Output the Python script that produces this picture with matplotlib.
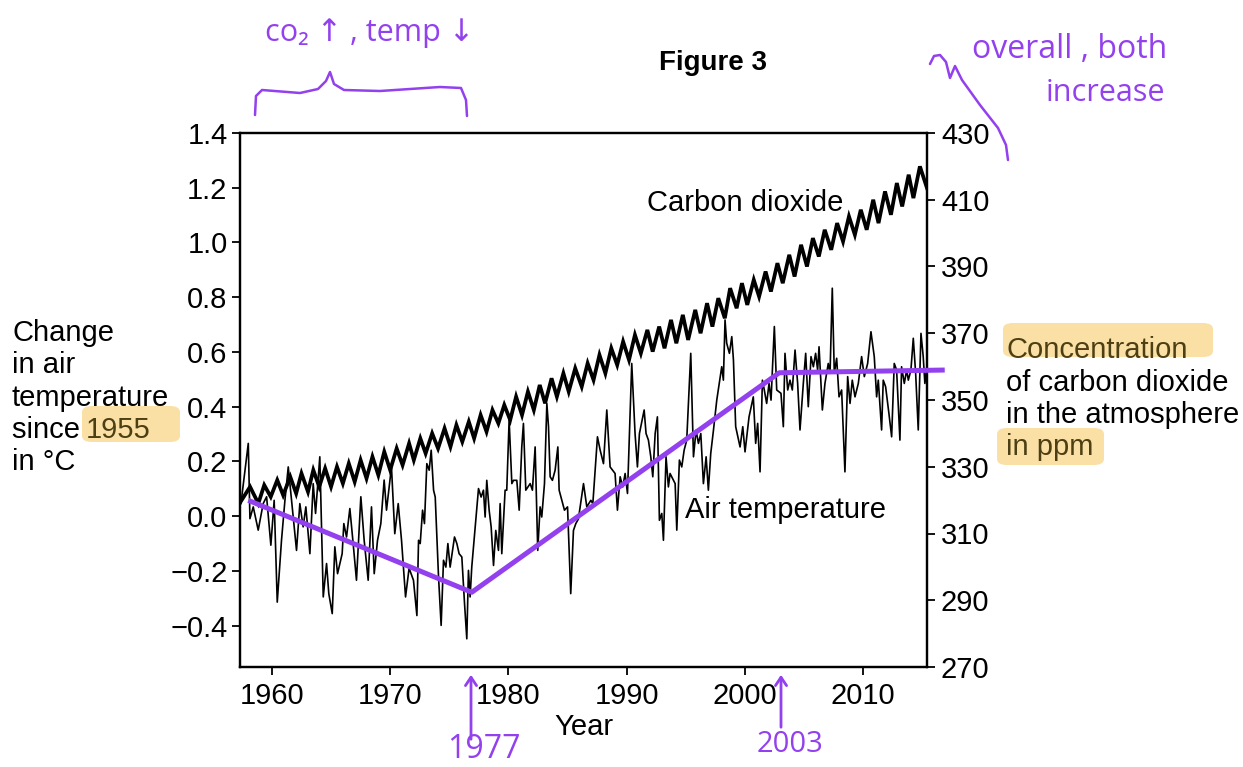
import numpy as np
import matplotlib.pyplot as plt
from matplotlib.lines import Line2D
from matplotlib.patches import FancyArrowPatch, FancyBboxPatch

plt.rcParams['font.family'] = ['Liberation Sans', 'DejaVu Sans']

# ---- data ----
# carbon dioxide, seasonal peaks and troughs (year, ppm)
co2_year = [1957.35, 1958.15, 1958.85, 1959.35, 1959.9, 1960.45, 1960.95, 1961.55, 1962.05, 1962.5,
            1963.05, 1963.5, 1964.0, 1964.5, 1965.0, 1965.5, 1966.0, 1966.5, 1967.0, 1967.5,
            1968.0, 1968.5, 1969.0, 1969.5, 1970.0, 1970.55, 1971.05, 1971.6, 1972.0, 1972.55,
            1973.0, 1973.55, 1974.05, 1974.6, 1975.1, 1975.6, 1976.1, 1976.65, 1977.1, 1977.65,
            1978.15, 1978.65, 1979.15, 1979.65, 1980.15, 1980.65, 1981.15, 1981.65, 1982.15, 1982.65,
            1983.1, 1983.65, 1984.1, 1984.65, 1985.1, 1985.65, 1986.2, 1986.7, 1987.2, 1987.7,
            1988.2, 1988.7, 1989.2, 1989.7, 1990.2, 1990.7, 1991.2, 1991.75, 1992.2, 1992.75,
            1993.2, 1993.75, 1994.2, 1994.75, 1995.2, 1995.8, 1996.25, 1996.8, 1997.25, 1997.75,
            1998.3, 1998.75, 1999.3, 1999.75, 2000.2, 2000.75, 2001.2, 2001.75, 2002.2, 2002.75,
            2003.2, 2003.75, 2004.2, 2004.75, 2005.25, 2005.75, 2006.25, 2006.75, 2007.3, 2007.8,
            2008.3, 2008.8, 2009.3, 2009.8, 2010.3, 2010.85, 2011.3, 2011.85, 2012.35, 2012.85,
            2013.3, 2013.85, 2014.25, 2014.8, 2015.4]
co2_ppm = [319.5, 324.0, 319.0, 324.5, 321.0, 326.0, 321.5, 327.0, 322.0, 328.0,
           322.5, 329.0, 324.0, 329.5, 324.0, 330.0, 325.0, 331.0, 325.5, 332.0,
           326.5, 333.0, 327.5, 334.5, 329.0, 335.5, 330.5, 337.0, 332.0, 338.5,
           334.0, 340.0, 335.5, 341.5, 336.0, 342.5, 337.5, 343.5, 338.5, 345.5,
           340.5, 347.0, 343.0, 348.5, 344.0, 351.0, 345.5, 352.5, 347.0, 354.5,
           349.0, 356.5, 351.0, 358.0, 352.5, 359.5, 354.0, 361.0, 356.0, 363.5,
           358.0, 365.5, 360.5, 367.5, 362.0, 369.5, 364.0, 371.0, 364.5, 372.0,
           365.5, 374.0, 367.0, 375.5, 368.0, 377.0, 370.0, 379.0, 372.0, 380.5,
           374.5, 383.5, 377.5, 385.0, 378.5, 386.0, 381.0, 388.5, 382.5, 391.0,
           385.0, 393.5, 387.0, 396.5, 390.0, 398.5, 393.0, 401.0, 395.0, 403.0,
           397.5, 405.0, 399.5, 407.0, 401.0, 410.0, 403.0, 412.5, 405.5, 415.0,
           408.0, 417.5, 410.5, 420.0, 413.5]

# change in air temperature since 1955 (year, degC)
temp_year = [1957.38, 1958.0, 1958.14, 1958.42, 1958.84, 1959.26, 1959.55, 1959.91, 1960.19, 1960.45,
             1960.81, 1961.1, 1961.38, 1961.66, 1962.08, 1962.36, 1962.64, 1962.87, 1963.21, 1963.49,
             1963.69, 1964.05, 1964.34, 1964.62, 1964.81, 1965.1, 1965.32, 1965.55, 1965.94, 1966.08,
             1966.31, 1966.59, 1966.87, 1967.15, 1967.52, 1967.8, 1968.14, 1968.42, 1968.65, 1968.93,
             1969.21, 1969.49, 1969.69, 1970.11, 1970.39, 1970.68, 1970.96, 1971.3, 1971.6, 1971.97,
             1972.26, 1972.4, 1972.54, 1972.74, 1972.9, 1973.1, 1973.3, 1973.47, 1973.67, 1973.81,
             1974.09, 1974.31, 1974.51, 1974.71, 1974.88, 1975.07, 1975.44, 1975.64, 1975.83, 1976.06,
             1976.29, 1976.48, 1976.62, 1976.76, 1976.9, 1977.19, 1977.47, 1977.69, 1977.89, 1978.03,
             1978.17, 1978.37, 1978.54, 1978.74, 1978.93, 1979.16, 1979.3, 1979.44, 1979.72, 1979.86,
             1980.06, 1980.29, 1980.43, 1980.71, 1980.91, 1981.13, 1981.27, 1981.47, 1981.84, 1982.03,
             1982.26, 1982.48, 1982.68, 1982.82, 1983.05, 1983.25, 1983.39, 1983.53, 1983.72, 1983.95,
             1984.18, 1984.29, 1984.74, 1985.0, 1985.27, 1985.5, 1985.7, 1985.92, 1986.35, 1986.63,
             1986.97, 1987.14, 1987.53, 1987.76, 1988.04, 1988.32, 1988.6, 1989.02, 1989.22, 1989.45,
             1989.67, 1989.87, 1990.07, 1990.43, 1990.71, 1990.91, 1991.08, 1991.48, 1991.64, 1991.84,
             1992.04, 1992.21, 1992.41, 1992.6, 1992.77, 1992.97, 1993.11, 1993.33, 1993.53, 1993.67,
             1994.1, 1994.24, 1994.46, 1994.66, 1994.86, 1995.08, 1995.42, 1995.65, 1995.87, 1996.07,
             1996.27, 1996.49, 1996.72, 1996.91, 1997.11, 1997.34, 1997.62, 1998.04, 1998.18, 1998.32,
             1998.46, 1998.69, 1998.89, 1999.03, 1999.22, 1999.59, 1999.82, 2000.01, 2000.35, 2000.71,
             2000.91, 2001.08, 2001.28, 2001.48, 2001.64, 2001.84, 2002.04, 2002.21, 2002.49, 2002.69,
             2003.05, 2003.25, 2003.39, 2003.62, 2003.81, 2004.01, 2004.24, 2004.46, 2004.66, 2004.94,
             2005.14, 2005.36, 2005.59, 2005.79, 2005.98, 2006.15, 2006.27, 2006.55, 2006.77, 2007.05,
             2007.2, 2007.39, 2007.56, 2007.76, 2007.96, 2008.18, 2008.46, 2008.69, 2008.89, 2009.08,
             2009.31, 2009.59, 2009.87, 2010.1, 2010.38, 2010.66, 2010.94, 2011.14, 2011.28, 2011.56,
             2011.7, 2011.9, 2012.18, 2012.41, 2012.63, 2012.83, 2013.11, 2013.25, 2013.48, 2013.68,
             2013.82, 2014.04, 2014.24, 2014.44, 2014.66, 2014.89, 2015.08, 2015.22, 2015.4]
temp_change = [0.046, 0.266, -0.009, 0.034, -0.051, 0.046, 0.071, -0.106, 0.058, -0.314,
               -0.088, 0.058, 0.18, 0.058, -0.125, 0.046, -0.039, 0.034, -0.137, 0.119,
               0.01, 0.217, -0.295, -0.173, -0.283, -0.356, -0.112, -0.21, -0.137, -0.027,
               -0.076, 0.028, -0.1, -0.234, 0.071, -0.088, -0.234, 0.034, -0.21, -0.088,
               -0.027, 0.132, 0.022, 0.18, -0.064, 0.046, -0.088, -0.295, -0.19, -0.234,
               -0.363, -0.088, -0.1, 0.022, -0.027, 0.192, 0.168, 0.241, 0.095, 0.07,
               -0.222, -0.399, -0.161, -0.186, -0.1, -0.186, -0.076, -0.1, -0.137, -0.149,
               -0.32, -0.448, -0.198, -0.295, -0.186, -0.039, 0.101, 0.07, 0.095, -0.003,
               0.131, 0.022, -0.039, -0.18, -0.052, -0.125, 0.046, -0.137, 0.095, 0.095,
               0.351, 0.119, 0.131, 0.131, 0.022, 0.253, 0.339, 0.095, 0.119, 0.095,
               0.253, -0.125, 0.034, -0.003, 0.119, 0.412, 0.327, 0.144, 0.131, 0.168,
               0.253, 0.095, 0.022, 0.034, -0.283, -0.052, -0.027, -0.01, 0.119, 0.034,
               0.058, 0.046, 0.29, 0.241, 0.192, 0.388, 0.18, 0.156, 0.022, 0.144,
               0.107, 0.156, 0.083, 0.558, 0.302, 0.18, 0.302, 0.388, 0.302, 0.278,
               0.217, 0.144, 0.302, 0.363, -0.015, 0.01, -0.088, 0.217, 0.107, 0.156,
               0.119, -0.051, 0.205, 0.18, 0.241, 0.278, 0.595, 0.217, 0.314, 0.266,
               0.302, 0.119, 0.217, 0.095, 0.229, 0.314, 0.424, 0.546, 0.497, 0.717,
               0.632, 0.595, 0.656, 0.571, 0.327, 0.253, 0.327, 0.235, 0.363, 0.436,
               0.266, 0.339, 0.162, 0.497, 0.461, 0.412, 0.485, 0.424, 0.693, 0.461,
               0.449, 0.327, 0.595, 0.461, 0.497, 0.461, 0.607, 0.485, 0.315, 0.485,
               0.595, 0.4, 0.583, 0.546, 0.595, 0.534, 0.619, 0.388, 0.485, 0.558,
               0.522, 0.833, 0.522, 0.577, 0.436, 0.461, 0.162, 0.51, 0.412, 0.497,
               0.436, 0.485, 0.583, 0.51, 0.558, 0.674, 0.583, 0.436, 0.497, 0.315,
               0.497, 0.473, 0.375, 0.29, 0.558, 0.534, 0.278, 0.546, 0.485, 0.534,
               0.497, 0.534, 0.65, 0.522, 0.315, 0.668, 0.583, 0.485, 0.55]

# hand drawn trend annotation (year, degC)
trend_year = [1958.0, 1976.9, 2002.9, 2016.9]
trend_temp = [0.058, -0.278, 0.524, 0.534]

purple = '#9340EE'
hl = '#FBE0A6'
W, H = 1243, 767


def fp(x, y):
    # image pixel -> figure fraction
    return x / W, 1 - y / H


fig = plt.figure(figsize=(W / 100, H / 100), dpi=100)
ax = fig.add_axes([240 / W, 1 - 667 / H, 687 / W, 534 / H])
ax2 = ax.twinx()

ax2.plot(co2_year, co2_ppm, color='black', lw=2.7, solid_joinstyle='miter', zorder=2)
ax.plot(temp_year, temp_change, color='black', lw=1.2, zorder=2)
ax2.plot(trend_year, trend_temp, color=purple, lw=3.6, transform=ax.transData,
         clip_on=False, solid_capstyle='butt', zorder=5)

ax.set_xlim(1957.3, 2015.4)
ax.set_ylim(-0.551, 1.4)
ax2.set_ylim(270, 430)
ax.set_xticks([1960, 1970, 1980, 1990, 2000, 2010])
ax.set_yticks(np.arange(-0.4, 1.41, 0.2))
ax.set_yticklabels(['\u22120.4', '\u22120.2', '0.0', '0.2', '0.4', '0.6', '0.8', '1.0', '1.2', '1.4'])
ax2.set_yticks(np.arange(270, 431, 20))

for a in (ax, ax2):
    for s in a.spines.values():
        s.set_linewidth(1.6)
    a.tick_params(labelsize=21, length=6, width=1.3, direction='out')
ax.tick_params(axis='y', pad=3)
ax2.tick_params(axis='y', pad=4)
ax.tick_params(axis='x', pad=5)
ax.set_xlabel('Year', fontsize=21, labelpad=2)

ax.text(0.592, 0.869, 'Carbon dioxide', transform=ax.transAxes, fontsize=21, va='center')
ax.text(0.648, 0.294, 'Air temperature', transform=ax.transAxes, fontsize=21, va='center')

fig.text(*fp(713, 63), 'Figure 3', fontsize=20, fontweight='bold', ha='center', va='center')

# highlights behind axis labels
for x0, y0, x1, y1 in [(82, 406, 180, 442), (1003, 323, 1213, 357), (997, 428, 1104, 465)]:
    a0 = fp(x0, y1)
    fig.add_artist(FancyBboxPatch(a0, (x1 - x0) / W, (y1 - y0) / H,
                                  boxstyle='round,pad=0,rounding_size=0.008',
                                  transform=fig.transFigure, facecolor=hl,
                                  edgecolor='none', zorder=0))

left_lines = ['Change', 'in air', 'temperature', 'since ', 'in \u00b0C']
left_y = [333, 365, 398, 430, 462]
for txt, yy in zip(left_lines, left_y):
    fig.text(*fp(12, yy), txt, fontsize=21, va='center', ha='left')
fig.text(*fp(86, 430), '1955', fontsize=21, va='center', ha='left', color='#4d3f14')

right_lines = ['Concentration', 'of carbon dioxide', 'in the atmosphere', 'in ppm']
right_y = [350, 383, 415, 447]
for i, (txt, yy) in enumerate(zip(right_lines, right_y)):
    c = '#4d3f14' if i in (0, 3) else 'black'
    fig.text(*fp(1006, yy), txt, fontsize=21, va='center', ha='left', color=c)

# handwritten notes
hand = dict(color=purple, family=['Open Sans', 'DejaVu Sans'])
fig.text(*fp(370, 33), 'co\u2082 \u2191 , temp \u2193', fontsize=22, ha='center', va='center', **hand)
fig.text(*fp(1070, 50), 'overall , both', fontsize=23, ha='center', va='center', **hand)
fig.text(*fp(1105, 93), 'increase', fontsize=22, ha='center', va='center', **hand)
fig.text(*fp(484, 750), '1977', fontsize=23, ha='center', va='center', **hand)
fig.text(*fp(790, 745), '2003', fontsize=21, ha='center', va='center', **hand)

brace = [(255, 115), (256, 96), (262, 90), (300, 93), (318, 89), (326, 81), (330, 72),
         (334, 84), (344, 90), (380, 91), (440, 87), (461, 88), (466, 100), (467, 116)]
squiggle = [(930, 64), (934, 56), (940, 55), (946, 62), (950, 78), (955, 66), (962, 80),
            (980, 105), (998, 128), (1006, 145), (1008, 160)]
for pts in (brace, squiggle):
    xs, ys = zip(*[fp(x, y) for x, y in pts])
    fig.add_artist(Line2D(xs, ys, color=purple, lw=1.8, transform=fig.transFigure,
                          solid_capstyle='round'))

for x, y0, y1 in [(471, 742, 672), (781, 730, 672)]:
    fig.add_artist(FancyArrowPatch(fp(x, y0), fp(x, y1), transform=fig.transFigure,
                                   arrowstyle='->,head_length=6,head_width=4',
                                   color=purple, lw=2.0))

fig.savefig('out.png', dpi=100)
